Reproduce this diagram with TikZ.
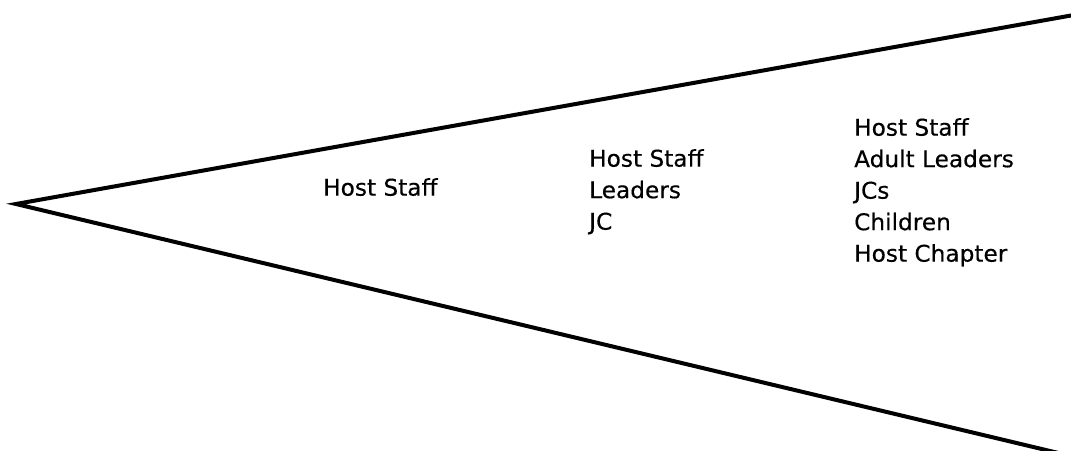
\documentclass[tikz,border=0pt]{standalone}
\usepackage{fontspec}
\setmainfont{DejaVu Sans}[FakeStretch=1.01,FakeBold=0.4]
\begin{document}
\begin{tikzpicture}[x=1pt,y=-1pt,
  edge/.style={line width=4pt,line cap=round,line join=miter},
  grouplist/.style={anchor=north west,inner sep=0pt,align=left,
    font=\fontsize{23}{31.5}\selectfont}]
  \useasboundingbox (0,0) rectangle (1071,450);
  % the funnel opening to the right
  \coordinate (apex) at (16,204);
  \coordinate (upper) at (1071,15.5);
  \coordinate (lower) at (1071,456);
  \draw[edge] (upper) -- (apex) -- (lower);
  % who takes part at each stage
  \node[grouplist] (stageA) at (323,178) {Host Staff};
  \node[grouplist] (stageB) at (589,149) {Host Staff\\Leaders\\JC};
  \node[grouplist] (stageC) at (854,118) {Host Staff\\Adult Leaders\\JCs\\Children\\Host Chapter};
\end{tikzpicture}
\end{document}
